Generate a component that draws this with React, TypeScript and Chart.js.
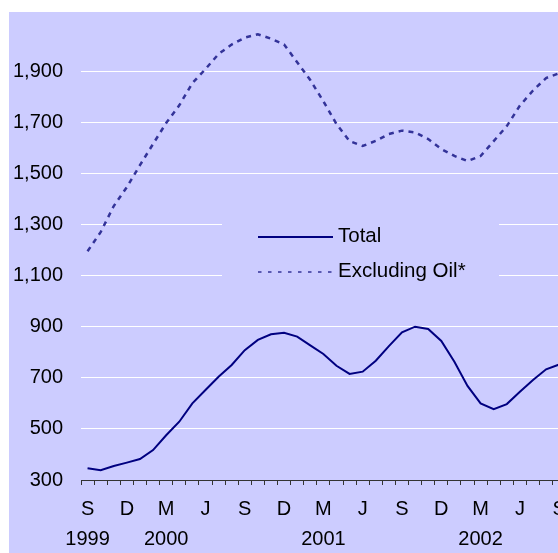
import React, { useEffect, useRef } from "react";
import { Chart, registerables } from "chart.js";
Chart.register(...registerables);

const months = ["S","O","N","D","J","F","M","A","M","J","J","A","S","O","N","D","J","F","M","A","M","J","J","A","S","O","N","D","J","F","M","A","M","J","J","A","S"];
const yearLabels = ["1999", "2000", "2001", "2002"];
const yearLabelIndex = [0, 6, 18, 30];

const totalValues = [346, 338, 355, 368, 382, 417, 475, 528, 600, 652, 704, 750, 808, 848, 870, 876, 861, 827, 793, 747, 715, 724, 767, 824, 878, 900, 891, 844, 763, 668, 600, 577, 597, 645, 691, 733, 752];
const exclOilValues = [1195, 1270, 1372, 1446, 1532, 1615, 1697, 1766, 1853, 1908, 1967, 2004, 2031, 2044, 2027, 2004, 1935, 1865, 1782, 1693, 1626, 1607, 1627, 1654, 1667, 1660, 1634, 1595, 1568, 1548, 1568, 1626, 1685, 1765, 1824, 1873, 1892];

const yMin = 300;
const yMax = 2100;
const yStep = 200;

const seriesNames = ["Total", "Excluding Oil*"];

const FONT = "'Liberation Sans', Arial, sans-serif";
const BG = "#CCCCFF";
const CANVAS_TOP = -10;

function fmt(v: number): string {
  const s = String(Math.round(v));
  return s.replace(/\B(?=(\d{3})+(?!\d))/g, ",");
}

export default function App() {
  const ref = useRef<HTMLCanvasElement>(null);
  useEffect(() => {
    const oy = -CANVAS_TOP;
    const legendPlugin = {
      id: "insideLegend",
      afterDraw(chart: any) {
        const ctx = chart.ctx as CanvasRenderingContext2D;
        ctx.save();
        ctx.fillStyle = BG;
        ctx.fillRect(222, 195 + oy, 277, 97);
        const rows = [237 + oy, 272 + oy];
        chart.data.datasets.forEach((ds: any, i: number) => {
          const y = rows[i];
          ctx.beginPath();
          ctx.strokeStyle = ds.borderColor;
          ctx.lineWidth = i === 0 ? 2 : 1.5;
          ctx.setLineDash(i === 0 ? [] : [3.5, 6.5]);
          ctx.moveTo(258, y);
          ctx.lineTo(333, y);
          ctx.stroke();
          ctx.setLineDash([]);
          ctx.fillStyle = "#000";
          ctx.font = `20.5px ${FONT}`;
          ctx.textBaseline = "middle";
          ctx.textAlign = "left";
          ctx.fillText(ds.label, 338, y - 1);
        });
        ctx.restore();
      },
    };

    const chart = new Chart(ref.current!, {
      type: "line",
      data: {
        labels: months,
        datasets: [
          {
            label: seriesNames[0],
            data: totalValues,
            borderColor: "#000080",
            borderWidth: 2,
            pointRadius: 0,
            tension: 0,
            fill: false,
          },
          {
            label: seriesNames[1],
            data: exclOilValues,
            borderColor: "#333399",
            borderWidth: 2.5,
            borderDash: [5, 5],
            pointRadius: 0,
            tension: 0,
            fill: false,
          },
        ],
      },
      options: {
        animation: false,
        responsive: false,
        devicePixelRatio: 1,
        layout: { padding: { top: 0, right: 9, left: 0, bottom: 0 } },
        plugins: {
          legend: { display: false },
          tooltip: { enabled: false },
        },
        scales: {
          x: {
            type: "category",
            offset: true,
            grid: {
              display: true,
              offset: true,
              drawOnChartArea: false,
              drawTicks: true,
              tickLength: 5,
              color: "#333333",
              lineWidth: 1,
            },
            border: { display: true, color: "#333333", width: 1 },
            ticks: {
              autoSkip: false,
              maxRotation: 0,
              minRotation: 0,
              padding: 9,
              color: "#000",
              font: { family: FONT, size: 20, lineHeight: 30.5 / 20 },
              callback: (_v: any, idx: number) => {
                if (idx % 3 !== 0) return "";
                const yi = yearLabelIndex.indexOf(idx);
                return yi >= 0 ? [months[idx], yearLabels[yi]] : months[idx];
              },
            },
            afterFit: (s: any) => {
              s.height = 73;
            },
          },
          y: {
            min: yMin,
            max: yMax,
            grid: {
              color: "#FFFFFF",
              lineWidth: 1,
              drawTicks: false,
            },
            border: { display: false },
            ticks: {
              stepSize: yStep,
              padding: 18,
              color: "#000",
              font: { family: FONT, size: 20 },
              callback: (v: any) => (Number(v) >= yMax ? null : fmt(Number(v))),
            },
            afterFit: (s: any) => {
              s.width = 81;
            },
          },
        },
      },
      plugins: [legendPlugin],
    });
    return () => chart.destroy();
  }, []);

  return (
    <div style={{ position: "fixed", left: 0, top: 0, width: 558, height: 553, overflow: "hidden", background: "#fff" }}>
      <div style={{ position: "absolute", left: 9, top: 12, width: 566, height: 541, background: BG }} />
      <canvas
        ref={ref}
        width={575}
        height={563}
        style={{ position: "absolute", left: 0, top: CANVAS_TOP, display: "block", width: 575, height: 563 }}
      />
    </div>
  );
}
